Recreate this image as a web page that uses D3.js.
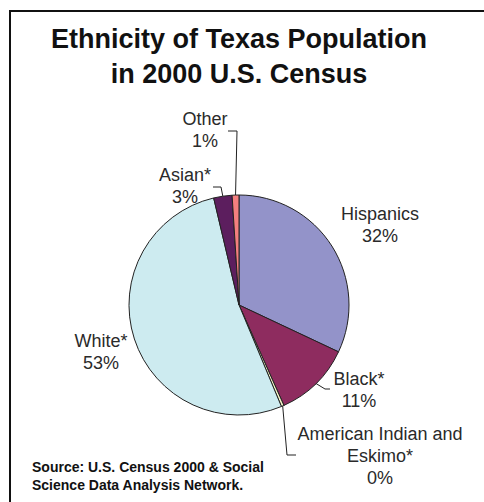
<!DOCTYPE html>
<html>
<head>
<meta charset="utf-8">
<script src="https://cdn.jsdelivr.net/npm/d3@7"></script>
<style>
    body { margin: 0; background: #fff; }
    svg text { font-family: Arial, "Liberation Sans", sans-serif; }
</style>
</head>
<body>
<svg id="drawing_region"></svg>
<script>
// data (clockwise from 12 o'clock)
const categories = ["Hispanics", "Black*", "American Indian and\nEskimo*", "White*", "Asian*", "Other"];
const shares = [32.0, 11.3, 0.4, 52.6, 2.7, 1.0];
const colors = ["#9393c9", "#8e2c5f", "#f3f0c6", "#cdebf0", "#5c1e5e", "#f47f7f"];
const titleLines = ["Ethnicity of Texas Population", "in 2000 U.S. Census"];
const sourceLines = ["Source: U.S. Census 2000 & Social", "Science Data Analysis Network."];

// where each label sits, and the knee points of its leader line (if any)
const labelLayout = [
    { x: 380, y: 220, knees: null },
    { x: 359, y: 385, knees: [[330, 389], [325, 389]] },
    { x: 380, y: 440, knees: [[296, 455], [287, 455]] },
    { x: 101, y: 347, knees: null },
    { x: 185, y: 181, knees: [[213, 187], [221, 187]] },
    { x: 205, y: 125, knees: [[228, 131], [237, 131]] }
];

const config = {
    width: 484,
    height: 502,
    cx: 239,
    cy: 305,
    radius: 110,
    lineHeight: 22
};

const svg = d3.select('#drawing_region')
    .attr('width', config.width)
    .attr('height', config.height);

// frame (only top and left edges are visible in the crop)
svg.append('path')
    .attr('d', `M10,${config.height} L10,11 L${config.width},11`)
    .attr('fill', 'none')
    .attr('stroke', '#111')
    .attr('stroke-width', 2);

svg.selectAll('.title')
    .data(titleLines)
    .enter()
    .append('text')
    .attr('class', 'title')
    .attr('x', 239)
    .attr('y', (d, i) => 48 + i * 35)
    .attr('text-anchor', 'middle')
    .style('font-weight', 'bold')
    .style('font-size', '27px')
    .attr('fill', '#111')
    .text(d => d);

const data = categories.map((c, i) => ({ name: c, value: shares[i], color: colors[i], layout: labelLayout[i] }));

const pie = d3.pie()
    .sort(null)
    .value(d => d.value);

const arc = d3.arc()
    .innerRadius(0)
    .outerRadius(config.radius);

const chart = svg.append('g')
    .attr('transform', `translate(${config.cx}, ${config.cy})`);

const arcs = pie(data);

chart.selectAll('path')
    .data(arcs)
    .enter()
    .append('path')
    .attr('d', arc)
    .attr('fill', d => d.data.color)
    .attr('stroke', '#222')
    .attr('stroke-width', 1)
    .attr('stroke-linejoin', 'round');

// leader lines from label to the middle of the slice's rim
const rimPoint = d => {
    const a = (d.startAngle + d.endAngle) / 2;
    return [config.cx + config.radius * Math.sin(a), config.cy - config.radius * Math.cos(a)];
};

svg.selectAll('.leader')
    .data(arcs.filter(d => d.data.layout.knees))
    .enter()
    .append('path')
    .attr('class', 'leader')
    .attr('d', d => d3.line()([...d.data.layout.knees, rimPoint(d)]))
    .attr('fill', 'none')
    .attr('stroke', '#222')
    .attr('stroke-width', 1);

const labels = svg.selectAll('.label')
    .data(arcs)
    .enter()
    .append('text')
    .attr('class', 'label')
    .attr('text-anchor', 'middle')
    .style('font-size', '18px')
    .attr('fill', '#2a2a2a');

labels.each(function(d) {
    const lines = d.data.name.split('\n').concat([Math.round(d.data.value) + '%']);
    d3.select(this).selectAll('tspan')
        .data(lines)
        .enter()
        .append('tspan')
        .attr('x', d.data.layout.x)
        .attr('y', (t, i) => d.data.layout.y + i * config.lineHeight)
        .text(t => t);
});

svg.selectAll('.source')
    .data(sourceLines)
    .enter()
    .append('text')
    .attr('class', 'source')
    .attr('x', 32)
    .attr('y', (d, i) => 472 + i * 18)
    .style('font-weight', 'bold')
    .style('font-size', '14px')
    .attr('fill', '#111')
    .text(d => d);
</script>
</body>
</html>
